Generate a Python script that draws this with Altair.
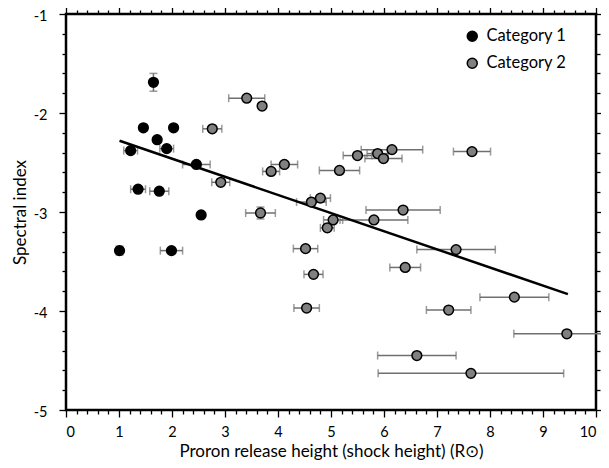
import altair as alt
import pandas as pd

# ---------------- data ----------------
# Category 1 (black)
cat1_x = [1.65, 1.46, 2.03, 1.72, 1.90, 1.22, 2.46, 1.36, 1.76, 2.55, 1.01, 1.99]
cat1_y = [-1.69, -2.15, -2.15, -2.27, -2.36, -2.38, -2.52, -2.77, -2.79, -3.03, -3.39, -3.39]
cat1_xerr = [0, 0, 0, 0, 0.13, 0.13, 0.26, 0.14, 0.18, 0, 0.05, 0.21]
cat1_yerr = [0.09, 0, 0, 0, 0, 0, 0, 0, 0, 0, 0.045, 0]

# Category 2 (grey)
cat2_x = [3.41, 3.70, 2.76, 6.15, 5.88, 5.50, 5.99, 4.12, 3.87, 5.16,
          2.92, 4.80, 4.63, 3.67, 6.36, 5.04, 5.81, 4.93, 4.52, 7.66,
          7.36, 6.40, 8.46, 4.67, 4.54, 7.22, 9.45, 6.62, 7.64]
cat2_y = [-1.85, -1.93, -2.16, -2.37, -2.41, -2.43, -2.46, -2.52, -2.59, -2.58,
          -2.70, -2.86, -2.90, -3.01, -2.98, -3.08, -3.08, -3.16, -3.37, -2.39,
          -3.38, -3.56, -3.86, -3.63, -3.97, -3.99, -4.23, -4.45, -4.63]
cat2_xerr = [0.34, 0, 0.18, 0.58, 0.20, 0.27, 0.35, 0.25, 0.16, 0.38,
             0.17, 0.19, 0.28, 0.28, 0.70, 0.18, 0.64, 0.13, 0.23, 0.35,
             0.74, 0.29, 0.65, 0.18, 0.24, 0.42, 1.00, 0.74, 1.75]
cat2_yerr = [0, 0, 0, 0, 0, 0, 0, 0, 0, 0,
             0, 0, 0, 0.06, 0, 0, 0, 0, 0, 0,
             0, 0, 0, 0, 0, 0, 0, 0, 0]

# Linear trend line end points
trend_x = [1.01, 9.47]
trend_y = [-2.28, -3.83]

categories = ["Category 1", "Category 2"]
x_ticks = [round(0.2 * k, 1) for k in range(51)]
y_ticks = [round(-5 + 0.2 * k, 1) for k in range(21)]

# ---------------- tables ----------------
rows, xe_rows, ye_rows = [], [], []
for cat, xs_, ys_, xes, yes in [
    (categories[0], cat1_x, cat1_y, cat1_xerr, cat1_yerr),
    (categories[1], cat2_x, cat2_y, cat2_xerr, cat2_yerr),
]:
    for x, y, xe_, ye_ in zip(xs_, ys_, xes, yes):
        rows.append({"x": x, "y": y, "cat": cat})
        if xe_ > 0:
            xe_rows.append({"x": x, "y": y, "lo": x - xe_, "hi": x + xe_})
        if ye_ > 0:
            ye_rows.append({"x": x, "y": y, "lo": y - ye_, "hi": y + ye_})

pts = pd.DataFrame(rows)
xe = pd.DataFrame(xe_rows)
ye = pd.DataFrame(ye_rows)
xcaps = pd.concat([xe[["lo", "y"]].rename(columns={"lo": "x"}),
                   xe[["hi", "y"]].rename(columns={"hi": "x"})])
ycaps = pd.concat([ye[["x", "lo"]].rename(columns={"lo": "y"}),
                   ye[["x", "hi"]].rename(columns={"hi": "y"})])
trend = pd.DataFrame({"x": trend_x, "y": trend_y})

FONT = "Lato"
xs = alt.Scale(domain=[0, 10], nice=False, zero=False)
ys = alt.Scale(domain=[-5, -1], nice=False, zero=False)

tick_size = {"condition": {"test": "datum.value % 1 == 0", "value": 7}, "value": 4}

ax_bottom = alt.Axis(values=x_ticks, orient="bottom", domain=False, grid=False,
                     labelExpr="datum.value % 1 == 0 ? datum.value + '' : ''",
                     tickSize=tick_size, tickColor="black", tickWidth=1.3,
                     labelFont=FONT, labelFontSize=14.5, labelColor="black", labelPadding=8,
                     title="Proron release height (shock height) (R\u2299)",
                     titleFont=FONT, titleFontSize=17, titleFontWeight="normal",
                     titleColor="black", titlePadding=5)
ax_left = alt.Axis(values=y_ticks, orient="left", domain=False, grid=False,
                   labelExpr="datum.value % 1 == 0 ? datum.value + '' : ''",
                   tickSize=tick_size, tickColor="black", tickWidth=1.3,
                   labelFont=FONT, labelFontSize=14.5, labelColor="black", labelPadding=12,
                   labelOffset=2,
                   title="Spectral index",
                   titleFont=FONT, titleFontSize=17, titleFontWeight="normal",
                   titleColor="black", titlePadding=4)
ax_top = alt.Axis(values=x_ticks, orient="top", domain=False, grid=False, labels=False,
                  tickSize=tick_size, tickColor="black", tickWidth=1.3, title=None)
ax_right = alt.Axis(values=y_ticks, orient="right", domain=False, grid=False, labels=False,
                    tickSize=tick_size, tickColor="black", tickWidth=1.3, title=None)

ERR = "#707070"

xbars = alt.Chart(xe).mark_rule(color=ERR, strokeWidth=1.5).encode(
    x=alt.X("lo:Q", scale=xs, axis=None), x2="hi:Q",
    y=alt.Y("y:Q", scale=ys, axis=None))
xcap = alt.Chart(xcaps).mark_tick(color=ERR, thickness=1.5, size=8, orient="vertical").encode(
    x=alt.X("x:Q", scale=xs, axis=None), y=alt.Y("y:Q", scale=ys, axis=None))
ybars = alt.Chart(ye).mark_rule(color=ERR, strokeWidth=1.5).encode(
    x=alt.X("x:Q", scale=xs, axis=None),
    y=alt.Y("lo:Q", scale=ys, axis=None), y2="hi:Q")
ycap = alt.Chart(ycaps).mark_tick(color=ERR, thickness=1.5, size=8, orient="horizontal").encode(
    x=alt.X("x:Q", scale=xs, axis=None), y=alt.Y("y:Q", scale=ys, axis=None))

line = alt.Chart(trend).mark_line(color="black", strokeWidth=2.5).encode(
    x=alt.X("x:Q", scale=xs, axis=ax_top), y=alt.Y("y:Q", scale=ys, axis=ax_right))

points = alt.Chart(pts).mark_circle(size=95, opacity=1, stroke="black", strokeWidth=1.5).encode(
    x=alt.X("x:Q", scale=xs, axis=ax_bottom),
    y=alt.Y("y:Q", scale=ys, axis=ax_left),
    fill=alt.Fill("cat:N", scale=alt.Scale(domain=categories, range=["black", "#808080"]),
                  legend=alt.Legend(title=None, orient="none", legendX=398, legendY=14,
                                    labelFont=FONT, labelFontSize=16.5, labelColor="black",
                                    symbolType="circle", symbolSize=100,
                                    symbolStrokeColor="black", symbolStrokeWidth=1.5,
                                    labelOffset=6, rowPadding=10, padding=0)))

chart = alt.layer(xbars, xcap, ybars, ycap, line, points).properties(
    width=530, height=396,
    autosize=alt.AutoSizeParams(type="none"),
    padding={"left": 58, "top": 6, "right": 5, "bottom": 56},
).configure_view(stroke="black", strokeWidth=2.5)

chart.save("out.html", embed_options={"renderer": "svg", "actions": False})
